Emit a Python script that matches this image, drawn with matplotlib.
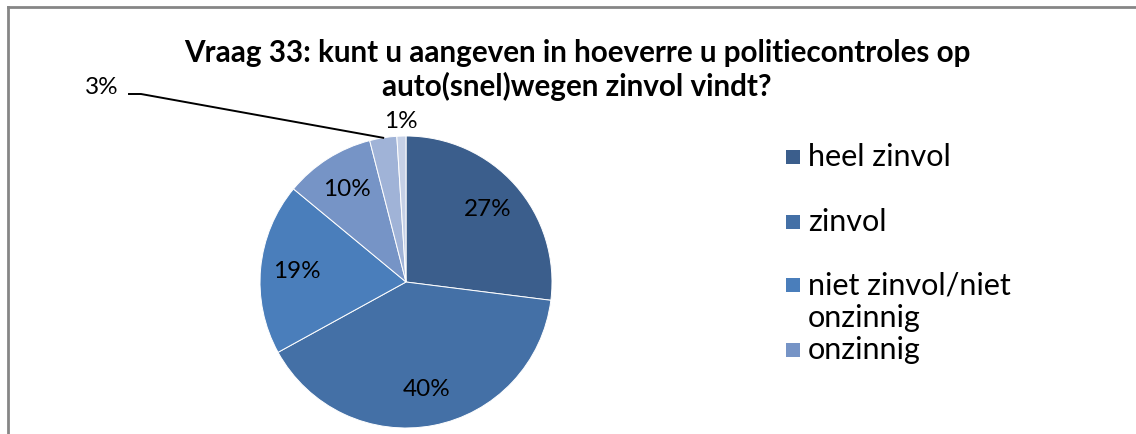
import numpy as np
import matplotlib.pyplot as plt
from matplotlib.lines import Line2D
from matplotlib.patches import Rectangle

plt.rcParams['font.family'] = ['Lato', 'DejaVu Sans']

# data
waarden = [27, 40, 19, 10, 3, 1]
legend_labels = ['heel zinvol', 'zinvol', 'niet zinvol/niet\nonzinnig', 'onzinnig']
kleuren = ['#3b5e8c', '#4470a6', '#4a7ebb', '#7694c6', '#a0b3d7', '#c5d0e6']
titel = 'Vraag 33: kunt u aangeven in hoeverre u politiecontroles op\nauto(snel)wegen zinvol vindt?'

W, H = 1136, 434
fig = plt.figure(figsize=(W/100, H/100), dpi=100)

# pie: centre (406,282) px, radius 146 px
cx, cy, r = 406, 282, 146
ax = fig.add_axes([(cx-r)/W, (H-cy-r)/H, 2*r/W, 2*r/H])
wedges, texts, autotexts = ax.pie(waarden, colors=kleuren, startangle=90, counterclock=False,
                                  autopct='%1.0f%%', pctdistance=0.75,
                                  wedgeprops=dict(edgecolor='white', linewidth=0.7),
                                  textprops=dict(fontsize=17.5, color='black'))
ax.set_xlim(-1, 1)
ax.set_ylim(-1, 1)
ax.set_aspect('equal')

# 1% label outside, above the wedge
w = wedges[5]
a = np.deg2rad((w.theta1 + w.theta2) / 2)
autotexts[5].set_position((1.1*np.cos(a), 1.1*np.sin(a)))
autotexts[5].set_clip_on(False)

# 3% label far left, with leader line
w = wedges[4]
a = np.deg2rad((w.theta1 + w.theta2) / 2)
edge = (np.cos(a), np.sin(a))
tx, ty = (102-cx)/r, (cy-88)/r
autotexts[4].set_position((tx, ty))
autotexts[4].set_clip_on(False)
x0 = (129-cx)/r
x1 = (141-cx)/r
yl = (cy-94)/r
ax.add_line(Line2D([x0, x1, edge[0]], [yl, yl, edge[1]], color='black', lw=1.4, clip_on=False))

# title
fig.text(577/W, 1-70/H, titel, ha='center', va='center', fontsize=21.3, fontweight='bold',
         linespacing=1.2)

# legend
leg_y = [157, 222, 285, 350]
for lab, kl, y in zip(legend_labels, kleuren, leg_y):
    fig.add_artist(Rectangle((786/W, 1-(y+7)/H), 14/W, 14/H, facecolor=kl, edgecolor='none',
                             transform=fig.transFigure))
    for i, regel in enumerate(lab.split('\n')):
        fig.text(808/W, 1-(y+33*i)/H, regel, ha='left', va='center', fontsize=22)

# chart border (top and left visible)
fig.add_artist(Line2D([8/W, 1], [1-7/H, 1-7/H], color='#868686', lw=2, transform=fig.transFigure))
fig.add_artist(Line2D([8/W, 8/W], [0, 1-7/H], color='#868686', lw=2, transform=fig.transFigure))

fig.savefig('out.png', dpi=100)
